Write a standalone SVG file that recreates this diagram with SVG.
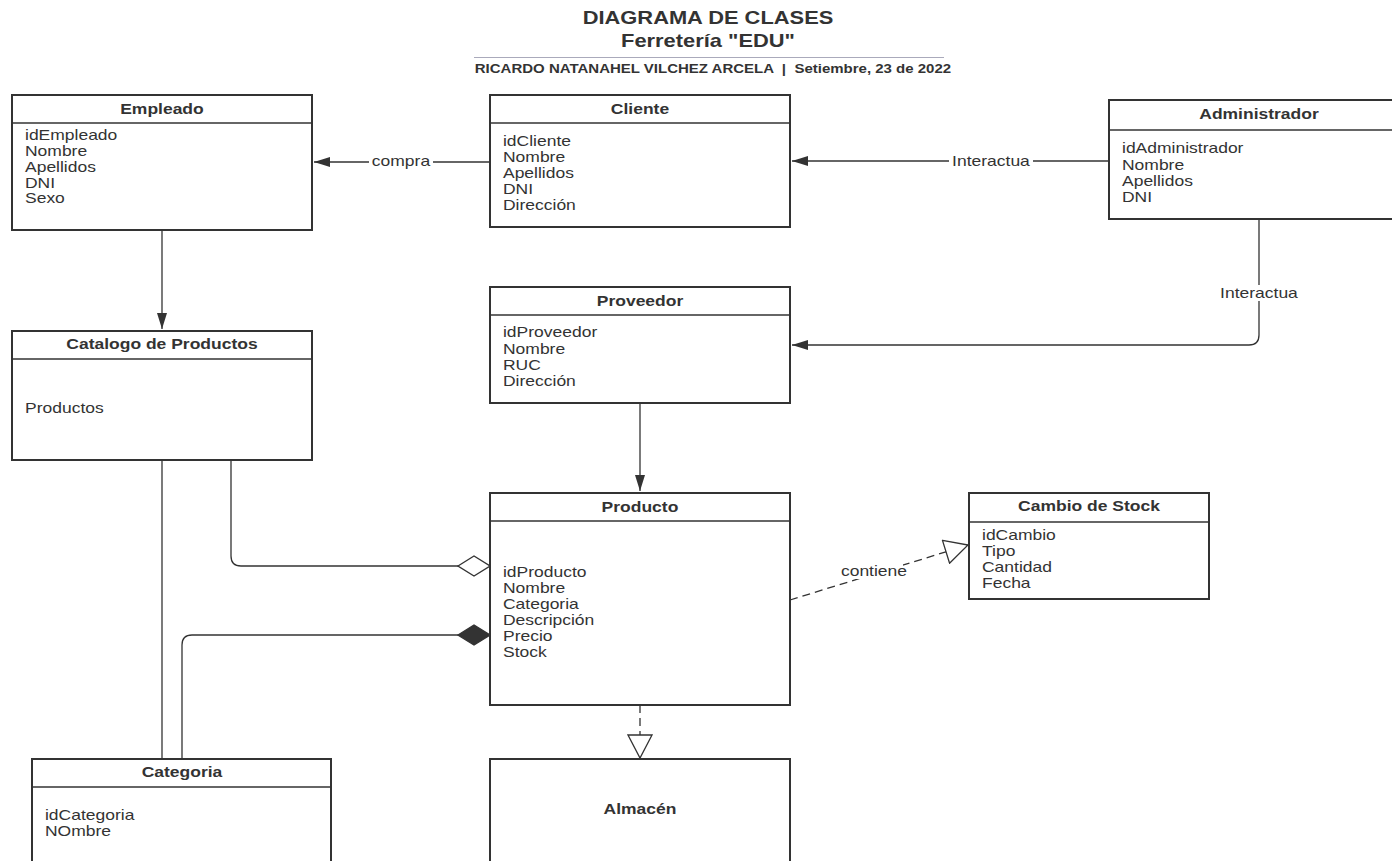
<svg xmlns="http://www.w3.org/2000/svg" width="1392" height="861" viewBox="0 0 1392 861">
  <style>
    text { font-family: "Liberation Sans", Arial, sans-serif; fill: #333; transform-box: fill-box; transform-origin: left center; transform: scaleX(1.25); }
    .mid { text-anchor: middle; transform-origin: center; }
    .box { fill: #fff; stroke: #333; stroke-width: 2; }
    .sep { stroke: #333; stroke-width: 1.5; }
    .title { font-size: 14px; font-weight: bold; }
    .attr { font-size: 14px; }
    .edge { fill: none; stroke: #333; stroke-width: 1.3; }
    .dash { stroke-dasharray: 8 5; }
    .lbl { font-size: 14px; }
  </style>
  <defs>
    <marker id="arrow" viewBox="0 0 16 12" refX="16" refY="6" markerWidth="16" markerHeight="12" markerUnits="userSpaceOnUse" orient="auto">
      <path d="M0,1 L16,6 L0,11 Z" fill="#333"/>
    </marker>
    <marker id="triangle" viewBox="0 0 26 26" refX="24" refY="13" markerWidth="26" markerHeight="26" markerUnits="userSpaceOnUse" orient="auto">
      <path d="M1,1 L24,13 L1,25 Z" fill="#fff" stroke="#333" stroke-width="1.3"/>
    </marker>
    <marker id="diamondOpen" viewBox="0 0 34 22" refX="33" refY="11" markerWidth="34" markerHeight="22" markerUnits="userSpaceOnUse" orient="auto">
      <path d="M1,11 L17,1 L33,11 L17,21 Z" fill="#fff" stroke="#333" stroke-width="1.3"/>
    </marker>
    <marker id="diamondFilled" viewBox="0 0 34 22" refX="33" refY="11" markerWidth="34" markerHeight="22" markerUnits="userSpaceOnUse" orient="auto">
      <path d="M1,11 L17,1 L33,11 L17,21 Z" fill="#333" stroke="#333" stroke-width="1.3"/>
    </marker>
  </defs>

  <rect width="1392" height="861" fill="#fff"/>

  <!-- header -->
  <g id="header">
    <text class="mid" x="708" y="24" font-size="17.5" font-weight="bold">DIAGRAMA DE CLASES</text>
    <text class="mid" x="708" y="47" font-size="17.5" font-weight="bold">Ferretería "EDU"</text>
    <line x1="474" y1="57.5" x2="944" y2="57.5" stroke="#aab" stroke-width="1"/>
    <text class="mid" x="713" y="73" font-size="12" font-weight="bold" xml:space="preserve">RICARDO NATANAHEL VILCHEZ ARCELA  |  Setiembre, 23 de 2022</text>
  </g>

  <!-- connectors -->
  <g id="connectors">
    <path class="edge" d="M490,162 H314" marker-end="url(#arrow)"/>
    <rect x="369" y="153" width="64" height="16" fill="#fff"/>
    <text class="lbl mid" x="401" y="166">compra</text>

    <path class="edge" d="M1109,161 H792" marker-end="url(#arrow)"/>
    <rect x="949" y="152" width="84" height="16" fill="#fff"/>
    <text class="lbl mid" x="991" y="166">Interactua</text>

    <path class="edge" d="M1259,219 V335 Q1259,345 1249,345 H792" marker-end="url(#arrow)"/>
    <rect x="1216" y="285" width="86" height="16" fill="#fff"/>
    <text class="lbl mid" x="1259" y="298">Interactua</text>

    <path class="edge" d="M162,230 V329" marker-end="url(#arrow)"/>
    <path class="edge" d="M640,403 V491" marker-end="url(#arrow)"/>

    <path class="edge" d="M231,460 V556 Q231,566 241,566 H490" marker-end="url(#diamondOpen)"/>
    <path class="edge" d="M162,460 V759"/>
    <path class="edge" d="M182,759 V645 Q182,635 192,635 H490" marker-end="url(#diamondFilled)"/>

    <path class="edge dash" d="M790,600 L968,545" marker-end="url(#triangle)"/>
    <rect x="845" y="563" width="58" height="16" fill="#fff"/>
    <text class="lbl mid" x="874" y="576">contiene</text>

    <path class="edge dash" d="M640,705 V758" marker-end="url(#triangle)"/>
  </g>

  <!-- classes -->
  <g id="empleado">
    <rect class="box" x="12" y="95" width="300" height="135"/>
    <line class="sep" x1="12" y1="123" x2="312" y2="123"/>
    <text class="title mid" x="162" y="114">Empleado</text>
    <text class="attr" x="25" y="140">idEmpleado</text>
    <text class="attr" x="25" y="156">Nombre</text>
    <text class="attr" x="25" y="172">Apellidos</text>
    <text class="attr" x="25" y="188">DNI</text>
    <text class="attr" x="25" y="203">Sexo</text>
  </g>

  <g id="cliente">
    <rect class="box" x="490" y="95" width="300" height="132"/>
    <line class="sep" x1="490" y1="123" x2="790" y2="123"/>
    <text class="title mid" x="640" y="114">Cliente</text>
    <text class="attr" x="503" y="146">idCliente</text>
    <text class="attr" x="503" y="162">Nombre</text>
    <text class="attr" x="503" y="178">Apellidos</text>
    <text class="attr" x="503" y="194">DNI</text>
    <text class="attr" x="503" y="210">Dirección</text>
  </g>

  <g id="administrador">
    <rect class="box" x="1109" y="100" width="300" height="119"/>
    <line class="sep" x1="1109" y1="130" x2="1409" y2="130"/>
    <text class="title mid" x="1259" y="119">Administrador</text>
    <text class="attr" x="1122" y="153">idAdministrador</text>
    <text class="attr" x="1122" y="170">Nombre</text>
    <text class="attr" x="1122" y="186">Apellidos</text>
    <text class="attr" x="1122" y="202">DNI</text>
  </g>

  <g id="catalogo">
    <rect class="box" x="12" y="331" width="300" height="129"/>
    <line class="sep" x1="12" y1="359" x2="312" y2="359"/>
    <text class="title mid" x="162" y="349">Catalogo de Productos</text>
    <text class="attr" x="25" y="413">Productos</text>
  </g>

  <g id="proveedor">
    <rect class="box" x="490" y="287" width="300" height="116"/>
    <line class="sep" x1="490" y1="315" x2="790" y2="315"/>
    <text class="title mid" x="640" y="306">Proveedor</text>
    <text class="attr" x="503" y="337">idProveedor</text>
    <text class="attr" x="503" y="354">Nombre</text>
    <text class="attr" x="503" y="370">RUC</text>
    <text class="attr" x="503" y="386">Dirección</text>
  </g>

  <g id="producto">
    <rect class="box" x="490" y="493" width="300" height="212"/>
    <line class="sep" x1="490" y1="521" x2="790" y2="521"/>
    <text class="title mid" x="640" y="512">Producto</text>
    <text class="attr" x="503" y="577">idProducto</text>
    <text class="attr" x="503" y="593">Nombre</text>
    <text class="attr" x="503" y="609">Categoria</text>
    <text class="attr" x="503" y="625">Descripción</text>
    <text class="attr" x="503" y="641">Precio</text>
    <text class="attr" x="503" y="657">Stock</text>
  </g>

  <g id="cambio-stock">
    <rect class="box" x="969" y="493" width="240" height="106"/>
    <line class="sep" x1="969" y1="522" x2="1209" y2="522"/>
    <text class="title mid" x="1089" y="511">Cambio de Stock</text>
    <text class="attr" x="982" y="540">idCambio</text>
    <text class="attr" x="982" y="556">Tipo</text>
    <text class="attr" x="982" y="572">Cantidad</text>
    <text class="attr" x="982" y="588">Fecha</text>
  </g>

  <g id="categoria">
    <rect class="box" x="32" y="759" width="299" height="120"/>
    <line class="sep" x1="32" y1="787" x2="331" y2="787"/>
    <text class="title mid" x="182" y="777">Categoria</text>
    <text class="attr" x="45" y="820">idCategoria</text>
    <text class="attr" x="45" y="836">NOmbre</text>
  </g>

  <g id="almacen">
    <rect class="box" x="490" y="759" width="300" height="120"/>
    <text class="title mid" x="640" y="814">Almacén</text>
  </g>
</svg>
